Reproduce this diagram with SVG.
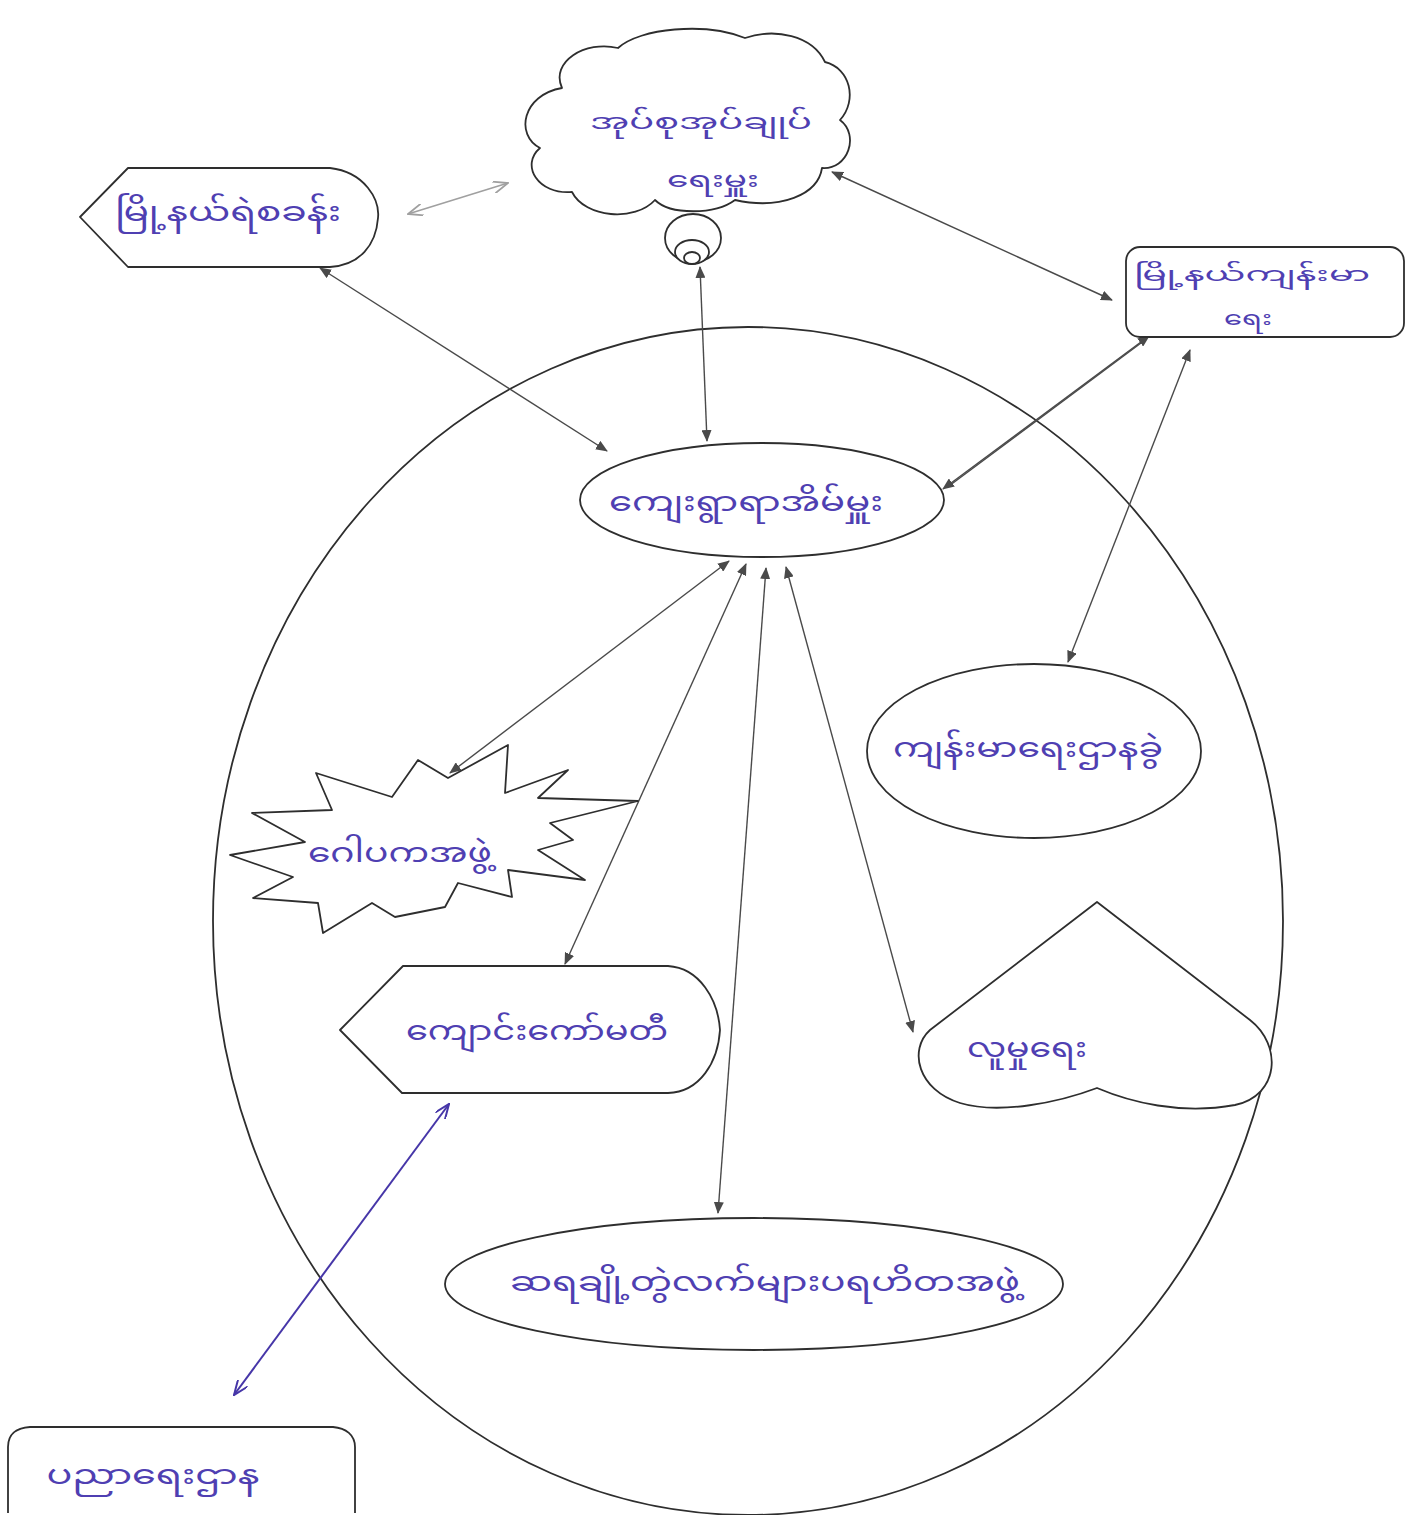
<svg xmlns="http://www.w3.org/2000/svg" width="1409" height="1515" viewBox="0 0 1409 1515">
<style>
.shape{fill:#ffffff;stroke:#2e2e2e;stroke-width:1.8;stroke-linejoin:round}
.lbl{font-family:"Noto Sans Myanmar","Noto Sans","DejaVu Sans",sans-serif;font-size:28px;fill:#4f3fb2;text-anchor:middle;dominant-baseline:central}
.sm{font-size:22px}
.xs{font-size:19px}
.con{stroke:#4a4a4a;stroke-width:1.4;fill:none}
.conlt{stroke:#a0a0a0;stroke-width:1.6;fill:none}
.conp{stroke:#4636a8;stroke-width:2;fill:none}
</style>
<defs>
<marker id="ah" viewBox="0 0 12 10" refX="11" refY="5" markerWidth="12" markerHeight="10" markerUnits="userSpaceOnUse" orient="auto-start-reverse">
<path d="M0,0 L12,5 L0,10 Z" fill="#4a4a4a"/>
</marker>
<marker id="ahp" viewBox="0 0 16 12" refX="15" refY="6" markerWidth="16" markerHeight="12" markerUnits="userSpaceOnUse" orient="auto-start-reverse">
<path d="M0,0 L15,6 L0,12" fill="none" stroke="#4636a8" stroke-width="2"/>
</marker>
<marker id="ahl" viewBox="0 0 16 12" refX="15" refY="6" markerWidth="16" markerHeight="12" markerUnits="userSpaceOnUse" orient="auto-start-reverse">
<path d="M0,0 L15,6 L0,12" fill="none" stroke="#a0a0a0" stroke-width="1.8"/>
</marker>
</defs>
<rect width="1409" height="1515" fill="#ffffff"/>

<g id="village-circle">
<ellipse class="shape" cx="748" cy="921" rx="535" ry="594" fill="none"/>
</g>

<g id="connectors">
<line class="conlt" x1="408" y1="214" x2="508" y2="183" marker-start="url(#ahl)" marker-end="url(#ahl)"/>
<line class="con" x1="832" y1="172" x2="1112" y2="300" marker-start="url(#ah)" marker-end="url(#ah)"/>
<line class="con" x1="320" y1="268" x2="607" y2="451" marker-start="url(#ah)" marker-end="url(#ah)"/>
<line class="con" x1="700" y1="267" x2="707" y2="441" marker-start="url(#ah)" marker-end="url(#ah)"/>
<line class="con" x1="1149" y1="336" x2="943" y2="489" marker-start="url(#ah)" marker-end="url(#ah)"/>
<line class="con" x1="1141" y1="343" x2="949" y2="486"/>
<line class="con" x1="1190" y1="350" x2="1068" y2="662" marker-start="url(#ah)" marker-end="url(#ah)"/>
<line class="con" x1="729" y1="561" x2="450" y2="773" marker-start="url(#ah)" marker-end="url(#ah)"/>
<line class="con" x1="746" y1="564" x2="565" y2="964" marker-start="url(#ah)" marker-end="url(#ah)"/>
<line class="con" x1="766" y1="568" x2="718" y2="1213" marker-start="url(#ah)" marker-end="url(#ah)"/>
<line class="con" x1="786" y1="567" x2="913" y2="1032" marker-start="url(#ah)" marker-end="url(#ah)"/>
<line class="conp" x1="449" y1="1104" x2="234" y2="1395" marker-start="url(#ahp)" marker-end="url(#ahp)"/>
</g>

<g id="node-cloud">
<path class="shape" d="M562,88 C550,62 585,40 618,48 C640,28 705,22 745,38 C775,28 812,35 825,62 C850,68 858,100 840,120 C860,135 848,170 822,168 C818,195 780,210 735,200 C715,215 670,215 655,200 C635,222 585,218 572,192 C538,195 520,165 540,148 C515,135 522,95 562,88 Z"/>
<ellipse class="shape" cx="693" cy="238" rx="28" ry="24"/>
<ellipse class="shape" cx="692" cy="252" rx="17" ry="12"/>
<ellipse class="shape" cx="692" cy="258" rx="8" ry="6"/>
<text class="lbl sm" x="701" y="124" textLength="222" lengthAdjust="spacingAndGlyphs">အုပ်စုအုပ်ချုပ်</text>
<text class="lbl sm" x="713" y="182" textLength="92" lengthAdjust="spacingAndGlyphs">ရေးမှူး</text>
</g>

<g id="node-police">
<path class="shape" d="M80,217 L128,168 L330,168 C365,172 380,200 378,218 C376,245 360,265 330,267 L128,267 Z"/>
<text class="lbl" x="228" y="214" textLength="226" lengthAdjust="spacingAndGlyphs">မြို့နယ်ရဲစခန်း</text>
</g>

<g id="node-township-health">
<rect class="shape" x="1126" y="247" width="278" height="90" rx="14"/>
<text class="lbl xs" x="1252" y="276" textLength="236" lengthAdjust="spacingAndGlyphs">မြို့နယ်ကျန်းမာ</text>
<text class="lbl xs" x="1248" y="320" textLength="48" lengthAdjust="spacingAndGlyphs">ရေး</text>
</g>

<g id="node-village-head">
<ellipse class="shape" cx="762" cy="500" rx="182" ry="57"/>
<text class="lbl" x="746" y="504" textLength="274" lengthAdjust="spacingAndGlyphs">ကျေးရွာရာအိမ်မှူး</text>
</g>

<g id="node-health-subdept">
<ellipse class="shape" cx="1034" cy="751" rx="167" ry="87"/>
<text class="lbl" x="1028" y="750" textLength="270" lengthAdjust="spacingAndGlyphs">ကျန်းမာရေးဌာနခွဲ</text>
</g>

<g id="node-gopaka">
<polygon class="shape" points="252,813 332,810 316,773 392,797 418,760 448,778 508,745 505,793 568,770 538,798 638,801 550,823 573,840 538,850 585,880 508,870 512,897 458,883 445,907 395,917 372,903 323,933 318,903 253,898 293,877 230,855 305,842"/>
<text class="lbl" x="400" y="855" textLength="184" lengthAdjust="spacingAndGlyphs">ဂေါပကအဖွဲ့</text>
</g>

<g id="node-school-committee">
<path class="shape" d="M340,1030 L403,966 L668,966 C700,968 718,1000 720,1030 C718,1062 700,1092 668,1093 L402,1093 Z"/>
<text class="lbl" x="537" y="1033" textLength="262" lengthAdjust="spacingAndGlyphs">ကျောင်းကော်မတီ</text>
</g>

<g id="node-social">
<path class="shape" d="M1097,902 L1250,1020 C1282,1045 1280,1095 1235,1105 C1180,1115 1130,1102 1097,1088 C1060,1102 1000,1115 960,1103 C918,1090 908,1050 930,1030 Z"/>
<text class="lbl" x="1027" y="1050" textLength="120" lengthAdjust="spacingAndGlyphs">လူမှုရေး</text>
</g>

<g id="node-charity">
<ellipse class="shape" cx="754" cy="1284" rx="309" ry="66"/>
<text class="lbl" x="765" y="1284" textLength="510" lengthAdjust="spacingAndGlyphs">ဆရချို့တွဲလက်များပရဟိတအဖွဲ့</text>
</g>

<g id="node-education">
<path class="shape" d="M8,1513 L8,1447 C8,1432 18,1428 30,1427 L333,1427 C346,1428 355,1435 355,1447 L355,1513"/>
<text class="lbl" x="153" y="1477" textLength="213" lengthAdjust="spacingAndGlyphs">ပညာရေးဌာန</text>
</g>
</svg>
